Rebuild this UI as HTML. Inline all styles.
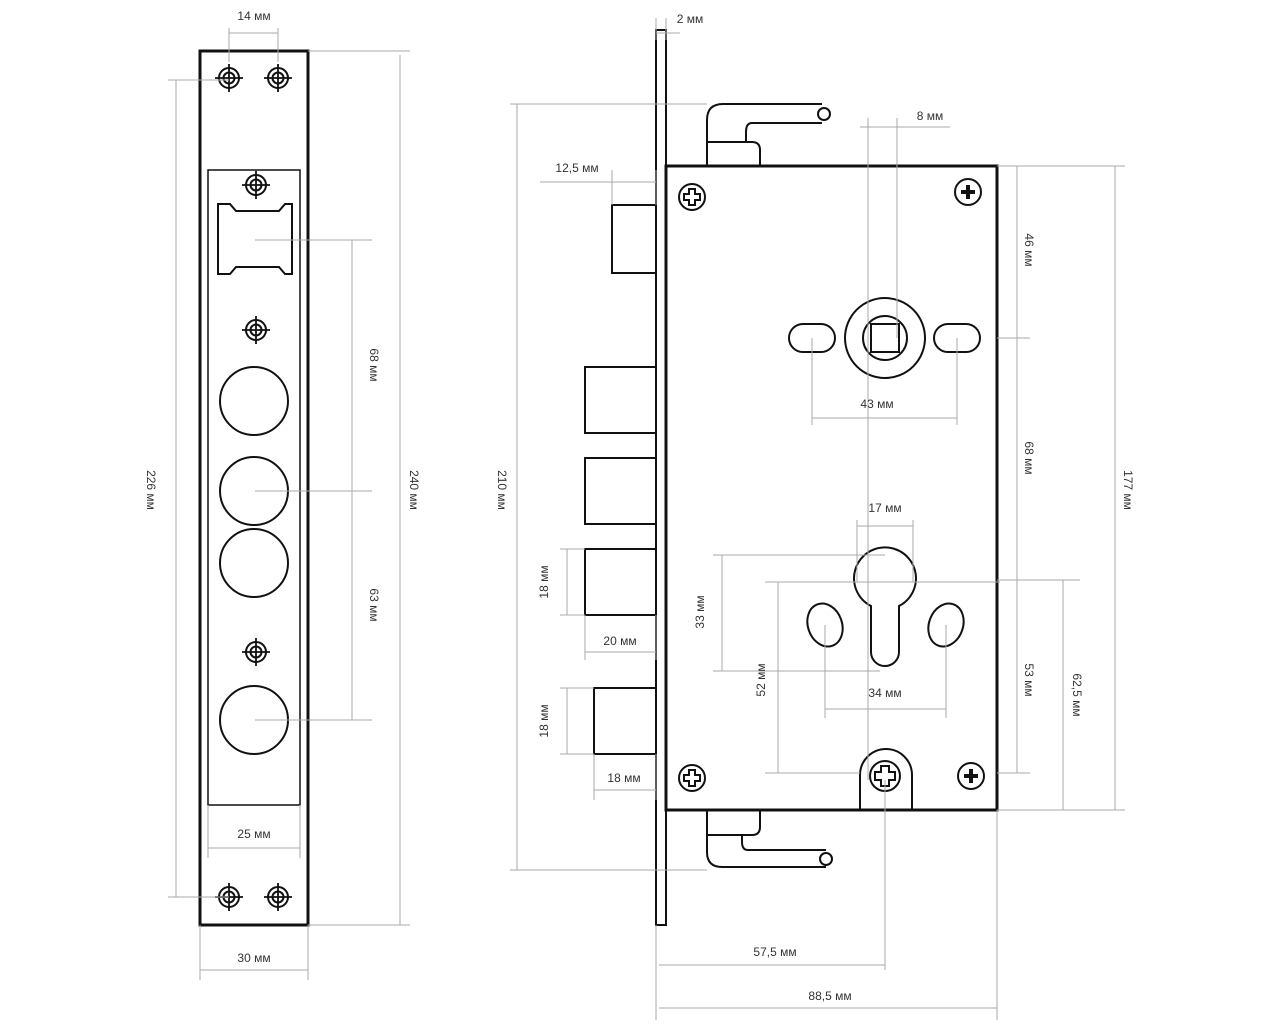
<!DOCTYPE html>
<html><head><meta charset="utf-8"><style>
body{margin:0;background:#fff}
svg{display:block}
text{font-family:"Liberation Sans",sans-serif;font-size:12px;fill:#333}
.d{stroke:#aaa;stroke-width:1;fill:none}
.k{stroke:#111;stroke-width:2;fill:none}
.t{stroke:#111;stroke-width:3;fill:none}
</style></head><body>
<svg width="1280" height="1024" viewBox="0 0 1280 1024">
<defs>
<g id="cs"><circle r="10" class="k" stroke-width="1.8"/><circle r="5.5" class="k" stroke-width="1.5"/><path d="M-14 0H14M0-14V14" stroke="#111" stroke-width="1.8"/></g>
<g id="ps"><circle r="13" class="k" stroke-width="1.8"/><path d="M-7 0H7M0-7V7" stroke="#111" stroke-width="4"/></g>
<g id="ps2"><circle r="13" class="k" stroke-width="1.8"/><path d="M-3-8H3V-3H8V3H3V8H-3V3H-8V-3H-3Z" class="k" stroke-width="1.5"/></g>
</defs>

<!-- LEFT STRIP -->
<rect x="200" y="51" width="108" height="874" class="t"/>
<rect x="208" y="170" width="92" height="635" stroke="#111" stroke-width="1.5" fill="none"/>
<use href="#cs" x="229" y="78"/><use href="#cs" x="278" y="78"/>
<use href="#cs" x="256" y="185"/><use href="#cs" x="256" y="330"/>
<use href="#cs" x="256" y="652"/>
<use href="#cs" x="229" y="897"/><use href="#cs" x="278" y="897"/>
<path d="M218 204H230L236 211H279L285 204H292V274H285L279 267H236L230 274H218Z" class="k"/>
<circle cx="254" cy="401" r="34" class="k"/>
<circle cx="254" cy="491" r="34" class="k"/>
<circle cx="254" cy="563" r="34" class="k"/>
<circle cx="254" cy="720" r="34" class="k"/>
<!-- left dims -->
<path class="d" d="M229 62V28M278 62V28M229 33H278"/>
<text x="254" y="20" text-anchor="middle">14 мм</text>
<path class="d" d="M168 80H229M168 897H229M176 80V897"/>
<text transform="translate(147,490) rotate(90)" text-anchor="middle">226 мм</text>
<path class="d" d="M308 51H410M308 925H410M400 55V925"/>
<text transform="translate(410,490) rotate(90)" text-anchor="middle">240 мм</text>
<path class="d" d="M255 240H372M255 491H372M255 720H372M352 240V720"/>
<text transform="translate(370,365) rotate(90)" text-anchor="middle">68 мм</text>
<text transform="translate(370,605) rotate(90)" text-anchor="middle">63 мм</text>
<path class="d" d="M208 805V858M300 805V858M208 848H300"/>
<text x="254" y="838" text-anchor="middle">25 мм</text>
<path class="d" d="M200 925V980M308 925V980M200 970H308"/>
<text x="254" y="962" text-anchor="middle">30 мм</text>

<!-- RIGHT LOCK -->
<rect x="656" y="30" width="10" height="895" stroke="#111" stroke-width="2" fill="#fff"/>
<rect x="666" y="166" width="331" height="644" class="t"/>
<!-- latches -->
<path class="k" d="M656 205H612V273H656"/>
<path class="k" d="M656 367H585V433H656"/>
<path class="k" d="M656 458H585V524H656"/>
<path class="k" d="M656 549H585V615H656"/>
<path class="k" d="M656 688H594V754H656"/>
<!-- handles -->
<path class="k" d="M707 166V120Q707 104 723 104H822M822 123H752Q746 123 746 132V142H707M746 142H752Q760 142 760 150V166"/>
<circle cx="824" cy="114" r="6" class="k" stroke-width="1.8"/>
<path class="k" d="M707 810V852Q707 867 722 867H826M826 850H748Q742 850 742 842V835H707M742 835H752Q760 835 760 827V810"/>
<circle cx="826" cy="859" r="6" class="k" stroke-width="1.8"/>
<!-- screws -->
<use href="#ps2" x="692" y="197"/><use href="#ps" x="968" y="192"/>
<use href="#ps2" x="692" y="778"/><use href="#ps" x="971" y="776"/>
<!-- spindle -->
<circle cx="885" cy="338" r="40" class="k"/>
<circle cx="885" cy="338" r="22" class="k"/>
<rect x="871" y="324" width="28" height="28" class="k"/>
<rect x="789" y="324" width="46" height="28" rx="14" class="k"/>
<rect x="934" y="324" width="46" height="28" rx="14" class="k"/>
<!-- cylinder -->
<path class="k" d="M871 606A31 31 0 1 1 899 606V652A14 14 0 0 1 871 652Z"/>
<ellipse cx="825" cy="625" rx="17" ry="22" transform="rotate(-20 825 625)" class="k"/>
<ellipse cx="946" cy="625" rx="17" ry="22" transform="rotate(20 946 625)" class="k"/>
<!-- bottom lug -->
<path class="k" d="M860 810V775A26 26 0 0 1 912 775V810"/>
<circle cx="885" cy="776" r="15" class="k" stroke-width="1.8"/>
<path class="k" stroke-width="1.5" d="M881 766H889V772H895V780H889V786H881V780H875V772H881Z"/>

<!-- right dims -->
<path class="d" d="M656 40V18M666 40V18M656 33H666M666 33H680"/>
<text x="690" y="23" text-anchor="middle">2 мм</text>
<path class="d" d="M868 118V780M897 118V338M860 127H950"/>
<text x="930" y="120" text-anchor="middle">8 мм</text>
<path class="d" d="M612 170V205M656 170V205M540 182H656"/>
<text x="577" y="172" text-anchor="middle">12,5 мм</text>
<path class="d" d="M510 104H707M510 870H707M517 104V870"/>
<text transform="translate(498,490) rotate(90)" text-anchor="middle">210 мм</text>
<path class="d" d="M997 166H1030M1017 166V773M997 338H1030M997 580H1080M997 773H1030"/>
<text transform="translate(1025,250) rotate(90)" text-anchor="middle">46 мм</text>
<text transform="translate(1025,458) rotate(90)" text-anchor="middle">68 мм</text>
<text transform="translate(1025,680) rotate(90)" text-anchor="middle">53 мм</text>
<path class="d" d="M997 166H1125M997 810H1125M1115 166V810"/>
<text transform="translate(1124,490) rotate(90)" text-anchor="middle">177 мм</text>
<path class="d" d="M1063 580V810"/>
<text transform="translate(1073,695) rotate(90)" text-anchor="middle">62,5 мм</text>
<path class="d" d="M812 338V425M957 338V425M812 418H957"/>
<text x="877" y="408" text-anchor="middle">43 мм</text>
<path class="d" d="M857 520V582M913 520V582M857 526H913"/>
<text x="885" y="512" text-anchor="middle">17 мм</text>
<path class="d" d="M713 555H885M713 671H880M722 555V671"/>
<text transform="translate(704,612) rotate(-90)" text-anchor="middle">33 мм</text>
<path class="d" d="M765 582H1000M765 773H860M778 582V773"/>
<text transform="translate(765,680) rotate(-90)" text-anchor="middle">52 мм</text>
<path class="d" d="M825 625V718M946 625V718M825 709H946"/>
<text x="885" y="697" text-anchor="middle">34 мм</text>
<path class="d" d="M560 549H585M560 615H585M567 549V615"/>
<text transform="translate(548,582) rotate(-90)" text-anchor="middle">18 мм</text>
<path class="d" d="M585 615V660M656 615V660M585 652H656"/>
<text x="620" y="645" text-anchor="middle">20 мм</text>
<path class="d" d="M560 688H594M560 754H594M567 688V754"/>
<text transform="translate(548,721) rotate(-90)" text-anchor="middle">18 мм</text>
<path class="d" d="M594 754V800M656 754V800M594 790H656"/>
<text x="624" y="782" text-anchor="middle">18 мм</text>
<path class="d" d="M885 780V970M656 925V1020M659 965H885"/>
<text x="775" y="956" text-anchor="middle">57,5 мм</text>
<path class="d" d="M997 810V1020M659 1008H997"/>
<text x="830" y="1000" text-anchor="middle">88,5 мм</text>
</svg>
</body></html>
